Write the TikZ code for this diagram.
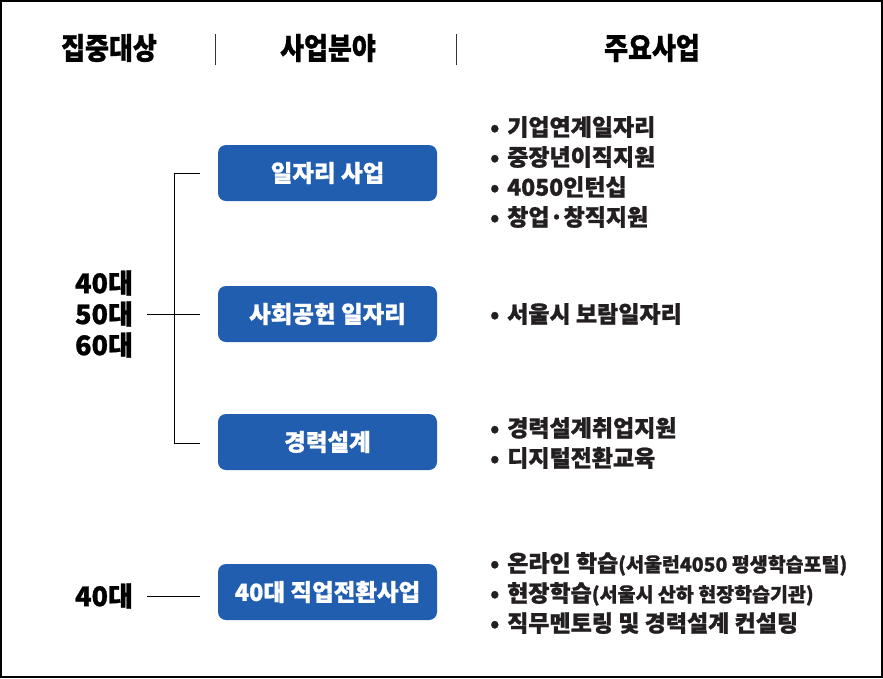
\documentclass[tikz,border=0pt]{standalone}
\usepackage{fontspec}
\setmainfont{Noto Sans CJK KR}[BoldFeatures={FakeBold=1}]
\usetikzlibrary{positioning}
\definecolor{boxblue}{HTML}{215EB0}
\definecolor{txt}{HTML}{231F20}
\tikzset{
  hdr/.style={font=\fontsize{26}{26}\selectfont\bfseries, text=black, inner sep=0pt, yscale=1.15},
  agelab/.style={font=\fontsize{27}{31}\selectfont\bfseries, text=black, align=center, inner sep=0pt},
  bluebox/.style={fill=boxblue, rounded corners=8pt, minimum width=219pt, minimum height=56pt,
    text=white, font=\fontsize{23.5}{23.5}\selectfont\bfseries, inner sep=0pt},
  item/.style={font=\fontsize{23}{30}\selectfont\bfseries, text=txt, anchor=west, inner sep=0pt, align=left},
  sepline/.style={line width=0.8pt, black!80},
  conn/.style={line width=0.8pt, black}
}
\newcommand{\bul}{\makebox[17pt][l]{\textbullet}}
\newcommand{\smalltxt}[1]{{\fontsize{19.5}{19.5}\selectfont #1}}
\begin{document}
\begin{tikzpicture}[x=1pt,y=-1pt]
\useasboundingbox (0,0) rectangle (883,678);
\fill[white] (0,0) rectangle (883,678);
\draw[line width=2pt] (1,1) rectangle (882,677);
% headers
\node[hdr] (h1) at (109,48) {집중대상};
\node[hdr] (h2) at (328,48) {사업분야};
\node[hdr] (h3) at (652,48) {주요사업};
\coordinate (s1t) at (215,34); \coordinate (s1b) at (215,65);
\coordinate (s2t) at (456,34); \coordinate (s2b) at (456,65);
\draw[sepline] (s1t) -- (s1b);
\draw[sepline] (s2t) -- (s2b);
% boxes
\node[bluebox] (b1) at (327.5,173) {일자리 사업};
\node[bluebox] (b2) at (327.5,314) {사회공헌 일자리};
\node[bluebox] (b3) at (327.5,442) {경력설계};
\node[bluebox] (b4) at (327.5,592) {40대 직업전환사업};
% age labels
\node[agelab] (a1) at (104,314) {40대\\50대\\60대};
\node[agelab] (a2) at (104,596) {40대};
% connectors
\coordinate (jt) at (174,173);
\coordinate (jb) at (174,443);
\coordinate (e1) at (200,173);
\coordinate (e2) at (200,314);
\coordinate (e3) at (200,443);
\coordinate (l1) at (147,314);
\coordinate (l2) at (147,596);
\coordinate (e4) at (200,596);
\draw[conn] (e1) -- (jt) -- (jb) -- (e3);
\draw[conn] (l1) -- (e2);
\draw[conn] (l2) -- (e4);
% items
\node[item] (i1) at (490,172) {\bul 기업연계일자리\\ \bul 중장년이직지원\\ \bul 4050인턴십\\ \bul 창업·창직지원};
\node[item] (i2) at (490,314) {\bul 서울시 보람일자리};
\node[item] (i3) at (490,443) {\bul 경력설계취업지원\\ \bul 디지털전환교육};
\node[item] (i4) at (490,593) {\bul 온라인 학습\smalltxt{(서울런4050 평생학습포털)}\\ \bul 현장학습\smalltxt{(서울시 산하 현장학습기관)}\\ \bul 직무멘토링 및 경력설계 컨설팅};
\end{tikzpicture}
\end{document}
